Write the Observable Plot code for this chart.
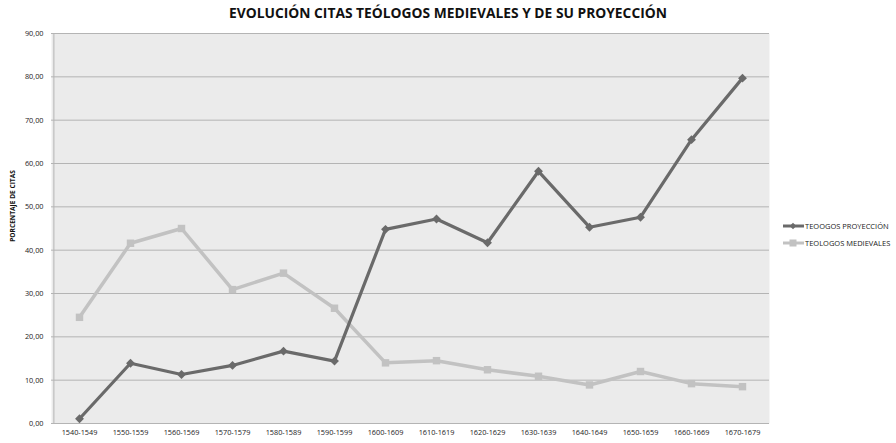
<!DOCTYPE html>
<html>
<head>
<meta charset="utf-8">
<script src="https://cdn.jsdelivr.net/npm/d3@7"></script>
<script src="https://cdn.jsdelivr.net/npm/@observablehq/plot@0.6"></script>
<style>
  html, body { margin: 0; padding: 0; background: #fff; }
  #wrap { position: relative; width: 896px; height: 443px; font-family: "Open Sans", sans-serif; }
  #title { position: absolute; left: 0; width: 896px; top: 3px; text-align: center; font-weight: bold; font-size: 13.8px; color: #111; }
  #ylabel { position: absolute; left: 12px; top: 206px; transform: translate(-50%, -50%) rotate(-90deg); white-space: nowrap; font-weight: bold; font-size: 6.6px; color: #111; }
  #legend { position: absolute; left: 783px; top: 217px; font-size: 7.5px; color: #222; }
  #legend div { display: flex; align-items: center; height: 17px; }
  #legend svg { margin-right: 1px; }
</style>
</head>
<body>
<div id="wrap">
  <div id="chart"></div>
  <div id="title">EVOLUCIÓN CITAS TEÓLOGOS MEDIEVALES Y DE SU PROYECCIÓN</div>
  <div id="ylabel">PORCENTAJE DE CITAS</div>
  <div id="legend"></div>
</div>
<script>
const categories = ["1540-1549","1550-1559","1560-1569","1570-1579","1580-1589","1590-1599","1600-1609","1610-1619","1620-1629","1630-1639","1640-1649","1650-1659","1660-1669","1670-1679"];
const proyeccion = [1.1, 13.9, 11.3, 13.4, 16.7, 14.4, 44.8, 47.2, 41.7, 58.2, 45.3, 47.6, 65.5, 79.7];
const medievales = [24.5, 41.6, 45.0, 30.9, 34.7, 26.6, 14.0, 14.5, 12.4, 10.9, 8.9, 12.0, 9.2, 8.5];
const seriesNames = ["TEOOGOS PROYECCIÓN", "TEOLOGOS MEDIEVALES"];
const yTicks = [0, 10, 20, 30, 40, 50, 60, 70, 80, 90];

const dark = "#6a6a6a", light = "#c2c2c2";
const rows = [];
categories.forEach((c, i) => {
  rows.push({cat: c, v: proyeccion[i], s: seriesNames[0]});
  rows.push({cat: c, v: medievales[i], s: seriesNames[1]});
});
const darkRows = rows.filter(d => d.s === seriesNames[0]);
const lightRows = rows.filter(d => d.s === seriesNames[1]);
const fmt = d => d3.format(".2f")(d).replace(".", ",");

const chart = Plot.plot({
  width: 896,
  height: 443,
  marginLeft: 51,
  marginRight: 127,
  marginTop: 33,
  marginBottom: 20,
  style: {fontFamily: "Open Sans, sans-serif", fontSize: "7.3px", color: "#1a1a1a", background: "transparent"},
  x: {type: "point", domain: categories, padding: 0.5, label: null},
  y: {domain: [0, 90], label: null},
  marks: [
    Plot.frame({fill: "#ebebeb", stroke: null}),
    Plot.gridY(yTicks, {stroke: "#b4b4b4", strokeOpacity: 1, strokeWidth: 1}),
    Plot.ruleX([categories[0]], {stroke: "#b4b4b4", strokeWidth: 1, dx: -25.6}),
    Plot.axisY({ticks: yTicks, tickFormat: fmt, tickSize: 0, tickPadding: 8, label: null}),
    Plot.axisX({tickSize: 0, tickPadding: 6, label: null}),
    Plot.line(lightRows, {x: "cat", y: "v", stroke: light, strokeWidth: 3.5}),
    Plot.dot(lightRows, {x: "cat", y: "v", symbol: "square", r: 4.2, fill: light, stroke: null}),
    Plot.line(darkRows, {x: "cat", y: "v", stroke: dark, strokeWidth: 3.2}),
    Plot.dot(darkRows, {x: "cat", y: "v", symbol: "diamond2", r: 4, fill: dark, stroke: null})
  ]
});
document.getElementById("chart").appendChild(chart);

const legend = document.getElementById("legend");
[[seriesNames[0], dark, "diamond"], [seriesNames[1], light, "square"]].forEach(([name, col, sym]) => {
  const div = document.createElement("div");
  const marker = sym === "diamond"
    ? `<path d="M10,-3.2 L13.2,0 L10,3.2 L6.8,0Z" fill="${col}"/>`
    : `<rect x="6.5" y="-3.5" width="7" height="7" fill="${col}"/>`;
  div.innerHTML = `<svg width="21" height="8" viewBox="0 -4 21 8"><line x1="0" x2="21" y1="0" y2="0" stroke="${col}" stroke-width="3"/>${marker}</svg><span>${name}</span>`;
  legend.appendChild(div);
});
</script>
</body>
</html>
